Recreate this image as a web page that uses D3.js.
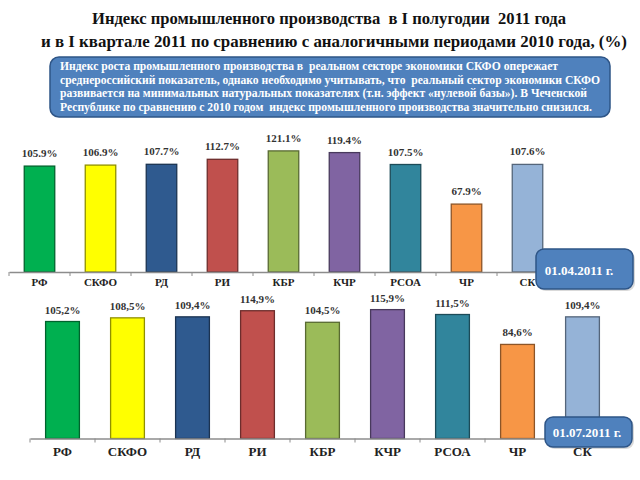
<!DOCTYPE html>
<html><head><meta charset="utf-8">
<script src="https://cdn.jsdelivr.net/npm/d3@7"></script>
<style>
html,body{margin:0;padding:0;background:#fff;}
svg text{white-space:pre;}
</style></head>
<body>
<svg id="chart" width="640" height="480"></svg>
<script>
const categories = ['РФ','СКФО','РД','РИ','КБР','КЧР','РСОА','ЧР','СК'];
const valuesQ1 = [105.9,106.9,107.7,112.7,121.1,119.4,107.5,67.9,107.6];
const labelsQ1 = ['105.9%','106.9%','107.7%','112.7%','121.1%','119.4%','107.5%','67.9%','107.6%'];
const valuesH1 = [105.2,108.5,109.4,114.9,104.5,115.9,111.5,84.6,109.4];
const labelsH1 = ['105,2%','108,5%','109,4%','114,9%','104,5%','115,9%','111,5%','84,6%','109,4%'];
const barColors = ['#00b050','#ffff00','#2f5a8f','#c0504d','#9bbb59','#8064a2','#31859c','#f79646','#95b3d7'];
const titleLines = ['Индекс промышленного производства  в I полугодии  2011 года',
                    'и в I квартале 2011 по сравнению с аналогичными периодами 2010 года, (%)'];
const noteLines = ['Индекс роста промышленного производства в  реальном секторе экономики СКФО опережает',
                   'среднероссийский показатель, однако необходимо учитывать, что  реальный сектор экономики СКФО',
                   'развивается на минимальных натуральных показателях (т.н. эффект «нулевой базы»). В Чеченской',
                   'Республике по сравнению с 2010 годом  индекс промышленного производства значительно снизился.'];
const badgeQ1 = '01.04.2011 г.';
const badgeH1 = '01.07.2011 г.';

const svg = d3.select('#chart');
const serif = '"Liberation Serif","Times New Roman",serif';

// Title
svg.append('text').attr('x',329).attr('y',24).attr('text-anchor','middle')
  .attr('font-family',serif).attr('font-weight','bold').attr('font-size',16).attr('fill','#111')
  .attr('textLength',474).attr('lengthAdjust','spacingAndGlyphs').text(titleLines[0]);
svg.append('text').attr('x',334).attr('y',47).attr('text-anchor','middle')
  .attr('font-family',serif).attr('font-weight','bold').attr('font-size',16).attr('fill','#111')
  .attr('textLength',586).attr('lengthAdjust','spacingAndGlyphs').text(titleLines[1]);

// Note box
svg.append('rect').attr('x',50).attr('y',57).attr('width',560).attr('height',60).attr('rx',9)
  .attr('fill','#4f81bd').attr('stroke','#2e5587').attr('stroke-width',1.5);
const noteWidths = [498,540,527,532];
noteLines.forEach((t,i)=>{
  svg.append('text').attr('x',60).attr('y',70+i*13.5)
    .attr('font-family',serif).attr('font-weight','bold').attr('font-size',12).attr('fill','#fff')
    .attr('textLength',noteWidths[i]).attr('lengthAdjust','spacingAndGlyphs').text(t);
});

function drawChart(cfg){
  const x = d3.scaleBand().domain(categories).range([cfg.x0,cfg.x1]).paddingInner(cfg.pad).paddingOuter(cfg.pad/2);
  const y = d3.scaleLinear().domain([0,130]).range([cfg.base,cfg.base-130*cfg.k]);
  const g = svg.append('g');
  g.selectAll('rect.bar').data(cfg.values).enter().append('rect').attr('class','bar')
    .attr('x',(d,i)=>x(categories[i])).attr('width',x.bandwidth())
    .attr('y',d=>y(d)).attr('height',d=>y(0)-y(d))
    .attr('fill',(d,i)=>barColors[i])
    .attr('stroke',(d,i)=>d3.color(barColors[i]).darker(1.6)).attr('stroke-width',1.3);
  // axis line
  const axis = d3.axisBottom(x).tickSize(0).tickFormat('');
  const ag = g.append('g').attr('transform',`translate(0,${cfg.base})`).call(axis);
  ag.select('.domain').attr('stroke','#8c8c8c').attr('stroke-width',1.3);
  const step = x.step();
  d3.range(categories.length+1).forEach(i=>{
    g.append('line').attr('x1',cfg.x0+i*step).attr('x2',cfg.x0+i*step)
      .attr('y1',cfg.base).attr('y2',cfg.base+4).attr('stroke','#8c8c8c').attr('stroke-width',1);
  });
  // category labels
  g.selectAll('text.cat').data(categories).enter().append('text').attr('class','cat')
    .attr('x',d=>x(d)+x.bandwidth()/2).attr('y',cfg.catY).attr('text-anchor','middle')
    .attr('font-family',serif).attr('font-weight','bold').attr('font-size',cfg.catSize).attr('fill','#222')
    .text(d=>d);
  // value labels
  g.selectAll('text.val').data(cfg.values).enter().append('text').attr('class','val')
    .attr('x',(d,i)=>x(categories[i])+x.bandwidth()/2).attr('y',d=>y(d)-cfg.labGap)
    .attr('text-anchor','middle').attr('font-family',serif).attr('font-weight','bold')
    .attr('font-size',11).attr('fill','#333')
    .text((d,i)=>cfg.labels[i]);
  // badge
  const b = cfg.badge;
  svg.append('rect').attr('x',b.x+2).attr('y',b.y+2).attr('width',b.w).attr('height',b.h).attr('rx',8)
    .attr('fill','#000').attr('opacity',0.15);
  svg.append('rect').attr('x',b.x).attr('y',b.y).attr('width',b.w).attr('height',b.h).attr('rx',8)
    .attr('fill','#4f81bd').attr('stroke','#2e5587').attr('stroke-width',1.5);
  svg.append('text').attr('x',b.tx).attr('y',b.ty).attr('text-anchor','middle')
    .attr('font-family',serif).attr('font-weight','bold').attr('font-size',13).attr('fill','#fff')
    .text(b.text);
}

drawChart({x0:9,x1:558,pad:0.5,base:272,k:1.0,values:valuesQ1,labels:labelsQ1,
  catY:286,catSize:11,labGap:9,
  badge:{x:536,y:249,w:97,h:40,tx:579,ty:275,text:badgeQ1}});
drawChart({x0:30,x1:615,pad:0.48,base:438.5,k:1.112,values:valuesH1,labels:labelsH1,
  catY:456,catSize:13,labGap:8,
  badge:{x:545,y:417,w:87,h:30,tx:587,ty:437,text:badgeH1}});
</script>
</body></html>
